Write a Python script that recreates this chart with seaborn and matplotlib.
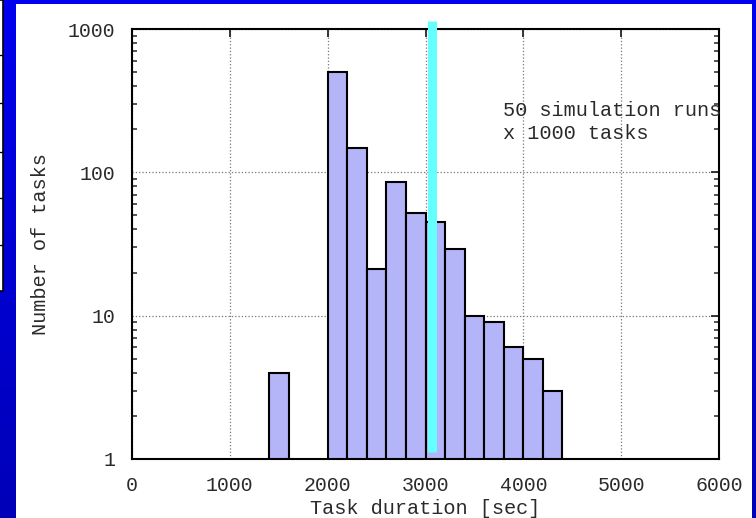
import numpy as np
import pandas as pd
import matplotlib
matplotlib.use("Agg")
import matplotlib.pyplot as plt
from matplotlib.patches import Rectangle
from matplotlib.lines import Line2D
import seaborn as sns

# histogram data (bin width 200 sec)
bin_starts = [1400, 2000, 2200, 2400, 2600, 2800, 3000, 3200, 3400, 3600, 3800, 4000, 4200]
task_counts = [4, 500, 148, 21, 85, 52, 45, 29, 10, 9, 6, 5, 3]
bin_edges = list(range(1400, 4401, 200))
marker_x = 3065  # cyan marker
x_ticks = [0, 1000, 2000, 3000, 4000, 5000, 6000]
y_ticks = [1, 10, 100, 1000]

df = pd.DataFrame({"start": bin_starts, "count": task_counts})
df["center"] = df["start"] + 100

sns.set_style("white")
plt.rcParams["font.family"] = ["Liberation Mono", "DejaVu Sans Mono"]

W, H = 756, 518
fig = plt.figure(figsize=(W / 100, H / 100), dpi=100)

# blue slide background with gradient
bg = fig.add_axes([0, 0, 1, 1], zorder=-10)
grad = np.linspace(0, 1, 256).reshape(-1, 1)
bg.imshow(grad, aspect="auto", extent=[0, 1, 0, 1], origin="upper",
          cmap=matplotlib.colors.LinearSegmentedColormap.from_list("b", ["#0000f0", "#0000b8"]))
bg.set_xlim(0, 1)
bg.set_ylim(0, 1)
bg.axis("off")
# white panel
bg.add_patch(Rectangle((16 / W, 0), (752 - 16) / W, (H - 4) / H, facecolor="white", edgecolor="none"))
# partial box at left edge
bg.add_patch(Rectangle((-5 / W, 1 - 291 / H), 7.5 / W, 291 / H, facecolor="white",
                       edgecolor="black", linewidth=1.2))
for yy in [55, 103, 152, 198, 245]:
    bg.add_line(Line2D([0, 2.5 / W], [1 - yy / H, 1 - yy / H], color="black", lw=1))

ax = fig.add_axes([132 / W, 1 - 459 / H, (719 - 132) / W, (459 - 29) / H])
ax.set_facecolor("white")

sns.histplot(data=df, x="center", weights="count", bins=bin_edges, ax=ax,
             color="#b4b4f8", alpha=1, edgecolor="black", linewidth=1.5, zorder=2)
ax.set_yscale("log")
ax.set_xlim(0, 6000)
ax.set_ylim(1, 1000)
ax.set_xticks(x_ticks)
ax.set_xticklabels([str(t) for t in x_ticks])
ax.set_yticks(y_ticks)
ax.set_yticklabels([str(t) for t in y_ticks])
ax.yaxis.set_minor_locator(matplotlib.ticker.LogLocator(base=10, subs=np.arange(2, 10)))
ax.yaxis.set_minor_formatter(matplotlib.ticker.NullFormatter())
ax.xaxis.set_minor_locator(matplotlib.ticker.NullLocator())

ax.tick_params(axis="both", which="major", direction="in", length=6, width=1.3,
               top=True, right=True, labelsize=14.3, labelcolor="#2a2a2a", pad=12)
ax.tick_params(axis="y", which="minor", direction="in", length=3.5, width=1.1, left=True, right=True)
for s in ax.spines.values():
    s.set_linewidth(1.5)
    s.set_color("black")

ax.grid(True, which="major", linestyle=":", color="#777777", linewidth=0.9, zorder=0)
ax.set_axisbelow(True)

# cyan marker line
ax.axvline(marker_x, ymin=(459 - 452) / 430, ymax=(459 - 21) / 430, color="#66ffff",
           linewidth=6.5, clip_on=False, zorder=3, solid_capstyle="butt")

ax.text(3790, 0.783, "50 simulation runs\nx 1000 tasks", transform=ax.get_xaxis_transform(),
        fontsize=14.6, color="#2a2a2a", va="center", ha="left", linespacing=1.25)

ax.set_xlabel("Task duration [sec]", fontsize=14.6, color="#2a2a2a", labelpad=3)
ax.set_ylabel("Number of tasks", fontsize=14.6, color="#2a2a2a", labelpad=13)

fig.savefig("out.png", dpi=100)
